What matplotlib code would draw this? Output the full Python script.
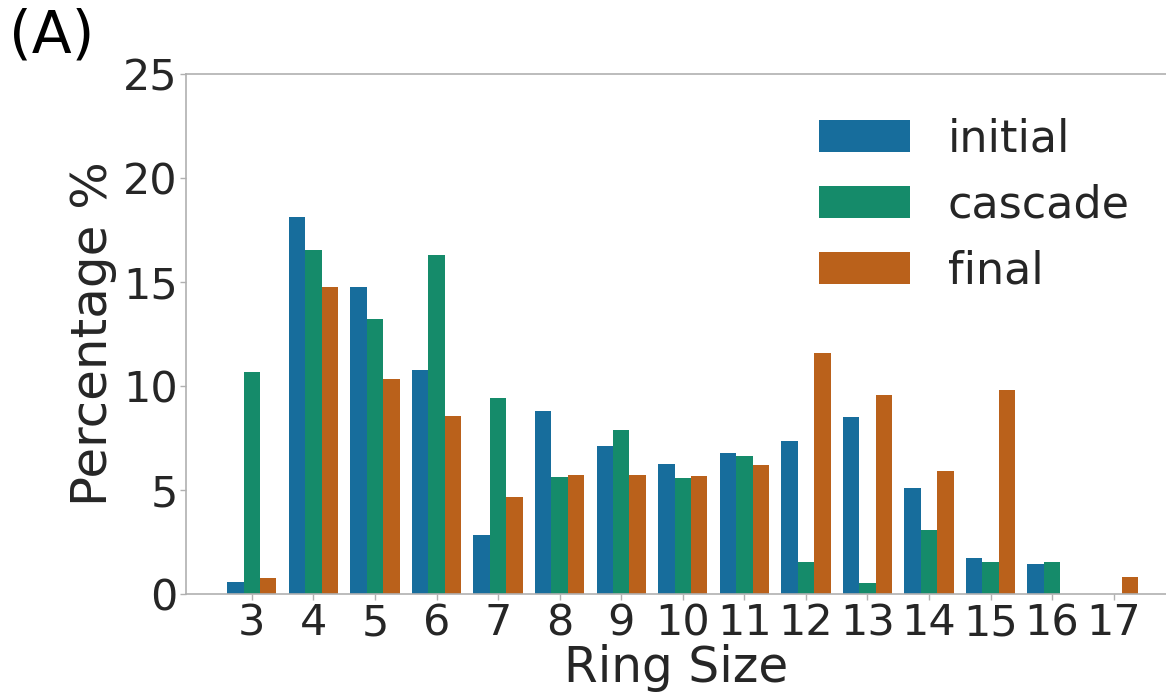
import matplotlib
matplotlib.use("Agg")
import matplotlib.pyplot as plt
import numpy as np
import seaborn as sns

ring_sizes = ["3", "4", "5", "6", "7", "8", "9", "10", "11", "12", "13", "14", "15", "16", "17"]
initial = [0.56, 18.14, 14.74, 10.78, 2.84, 8.80, 7.09, 6.23, 6.79, 7.36, 8.48, 5.08, 1.71, 1.43, 0.0]
cascade = [10.69, 16.55, 13.23, 16.29, 9.42, 5.60, 7.90, 5.59, 6.62, 1.54, 0.51, 3.06, 1.54, 1.54, 0.0]
final = [0.78, 14.74, 10.34, 8.53, 4.65, 5.70, 5.70, 5.69, 6.20, 11.60, 9.54, 5.93, 9.81, 0.0, 0.79]

series = [("initial", initial), ("cascade", cascade), ("final", final)]
base = ["#0173b2", "#029e73", "#d55e00"]
colors = [sns.desaturate(c, 0.75) for c in base]

fig = plt.figure(figsize=(11.66, 6.97), dpi=100)
ax = fig.add_axes([0.1595, 0.148, 0.8405, 0.746])

x = np.arange(len(ring_sizes))
w = 0.8 / 3
for i, (name, vals) in enumerate(series):
    ax.bar(x + (i - 1) * w, vals, width=w, color=colors[i], label=name, linewidth=0)

ax.set_xlim(-1.07, 14.85)
ax.set_ylim(0, 25)
ax.set_yticks([0, 5, 10, 15, 20, 25])
ax.set_xticks(x)
ax.set_xticklabels(ring_sizes)

for s in ["left", "bottom", "top"]:
    ax.spines[s].set_color("#b0b0b0")
    ax.spines[s].set_linewidth(1.2)
ax.spines["right"].set_visible(False)
ax.tick_params(axis="both", labelsize=31, colors="#b0b0b0", labelcolor="#262626",
               length=4, width=1, pad=2)

ax.set_xlabel("Ring Size", fontsize=35, color="#262626", labelpad=0)
ax.set_ylabel("Percentage %", fontsize=36, color="#262626", labelpad=4)

leg = ax.legend(loc="upper left", frameon=False, fontsize=32,
                handlelength=2.05, handleheight=0.72, labelspacing=0.52,
                handletextpad=0.85, borderpad=0, borderaxespad=0,
                bbox_to_anchor=(0.646, 0.916))
for t in leg.get_texts():
    t.set_color("#262626")

fig.text(0.008, 1 - 8 / 697, "(A)", fontsize=42, va="top", ha="left", color="black")

fig.savefig("out.png", dpi=100)
